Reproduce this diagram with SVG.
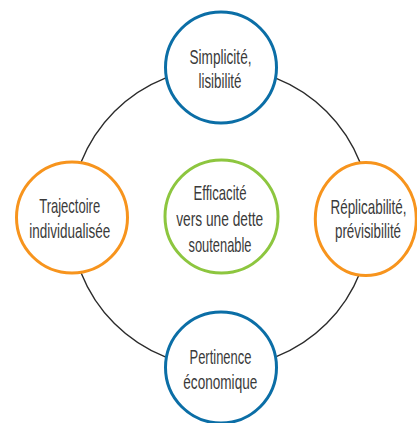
<svg xmlns="http://www.w3.org/2000/svg" width="417" height="423" viewBox="0 0 417 423">
<style>
.ring{fill:none;stroke:#2b2b2b;stroke-width:1.4}
.node{fill:#fff;stroke-width:3}
.blue{stroke:#0b6ea6}
.orange{stroke:#f7941d}
.green{stroke:#8dc63f}
text{font-family:"Liberation Sans","DejaVu Sans",sans-serif;font-size:21px;fill:#3a3a3a;text-anchor:middle}
</style>
<rect width="417" height="423" fill="#fff"/>
<g id="connectors">
<circle class="ring" cx="220.5" cy="217.5" r="150"/>
</g>
<g id="top">
<circle class="node blue" cx="221" cy="67.5" r="55.5"/>
<text x="220.5" y="63.5" textLength="62" lengthAdjust="spacingAndGlyphs">Simplicité,</text>
<text x="220" y="87.5" textLength="43" lengthAdjust="spacingAndGlyphs">lisibilité</text>
</g>
<g id="left">
<circle class="node orange" cx="72" cy="217.5" r="55.5"/>
<text x="69.7" y="212.5" textLength="61" lengthAdjust="spacingAndGlyphs">Trajectoire</text>
<text x="69.7" y="238" textLength="81" lengthAdjust="spacingAndGlyphs">individualisée</text>
</g>
<g id="right">
<ellipse class="node orange" cx="365.8" cy="219" rx="50.5" ry="56.5"/>
<text transform="translate(368.5 213.5) scale(0.62 1)" x="0" y="0" textLength="122.6" lengthAdjust="spacingAndGlyphs">Réplicabilité,</text>
<text transform="translate(368 238) scale(0.62 1)" x="0" y="0" textLength="106.5" lengthAdjust="spacingAndGlyphs">prévisibilité</text>
</g>
<g id="bottom">
<circle class="node blue" cx="221" cy="367.5" r="55.5"/>
<text x="220.5" y="364" textLength="62" lengthAdjust="spacingAndGlyphs">Pertinence</text>
<text x="220.3" y="389" textLength="74" lengthAdjust="spacingAndGlyphs">économique</text>
</g>
<g id="center">
<circle class="node green" cx="221.5" cy="216.5" r="56.5"/>
<text x="220" y="200" textLength="53" lengthAdjust="spacingAndGlyphs">Efficacité</text>
<text x="219.7" y="226" textLength="87" lengthAdjust="spacingAndGlyphs">vers une dette</text>
<text x="220" y="251.5" textLength="63" lengthAdjust="spacingAndGlyphs">soutenable</text>
</g>
</svg>
